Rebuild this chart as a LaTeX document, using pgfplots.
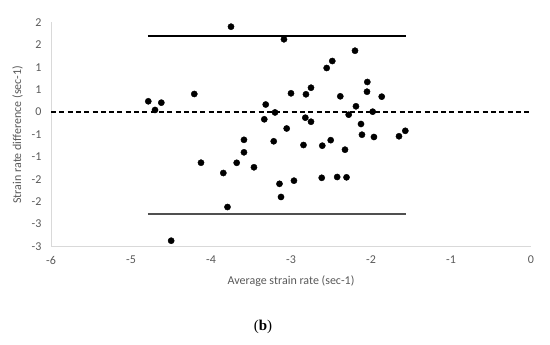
\documentclass[border=0pt]{standalone}
\usepackage{pgfplots}
\pgfplotsset{compat=1.18}
\usepackage{fontspec}
\setmainfont{Carlito}
\newfontfamily\capfont{Liberation Serif}
\definecolor{txt}{HTML}{595959}
\definecolor{axl}{HTML}{D9D9D9}
\definecolor{loa}{HTML}{505050}

\pgfplotstableread{
x y
-3.750 1.904
-4.784 0.239
-4.621 0.208
-4.700 0.045
-4.209 0.402
-3.316 0.167
-3.200 -0.010
-3.334 -0.163
-3.088 1.623
-2.200 1.368
-2.484 1.138
-2.554 0.982
-2.046 0.670
-2.750 0.542
-3.000 0.417
-2.813 0.395
-2.050 0.453
-2.384 0.350
-1.866 0.342
-2.188 0.127
-1.979 0.007
-2.279 -0.060
-2.821 -0.127
-2.750 -0.217
-2.125 -0.268
-3.054 -0.368
-3.216 -0.654
-2.844 -0.737
-2.609 -0.752
-2.504 -0.629
-2.325 -0.841
-2.113 -0.507
-1.963 -0.558
-1.650 -0.542
-1.571 -0.420
-4.125 -1.132
-3.679 -1.134
-3.588 -0.621
-3.588 -0.900
-3.463 -1.234
-3.846 -1.362
-3.144 -1.603
-3.125 -1.897
-2.963 -1.533
-2.616 -1.469
-2.423 -1.451
-2.306 -1.458
-3.794 -2.121
-4.498 -2.873
}\pts

\begin{document}
\begin{tikzpicture}[x=1pt,y=1pt]
\useasboundingbox (0,0) rectangle (550,345);
\begin{axis}[
    at={(531pt,233pt)}, anchor=origin,
    width=480pt, height=224pt, scale only axis,
    xmin=-6, xmax=0, ymin=-3, ymax=2,
    axis x line=bottom, axis y line=left,
    axis line style={draw=axl, line width=0.8pt, -},
    xtick={-6,-5,-4,-3,-2,-1,0},
    xticklabels={-6,-5,-4,-3,-2,-1,0},
    ytick={-3,-2.5,-2,-1.5,-1,-0.5,0,0.5,1,1.5,2},
    yticklabels={-3,-3,-2,-2,-1,-1,0,1,1,2,2},
    major tick length=0pt,
    tick label style={font=\fontsize{12}{14}\selectfont, text=txt},
    xticklabel style={yshift=-6pt},
    yticklabel style={xshift=-6pt},
    clip=false,
]
    % limits of agreement
    \addplot[black, line width=1.7pt] coordinates {(-4.79,1.70) (-1.566,1.70)};
    \addplot[loa, line width=1.9pt] coordinates {(-4.79,-2.27) (-1.566,-2.27)};
    % mean difference
    \addplot[black, line width=1.4pt, dash pattern=on 5pt off 3.3pt] coordinates {(-6,0) (0,0)};

    \addplot[only marks, mark=*, mark size=3.1pt, black] table {\pts};
\end{axis}
\node[rotate=90, text=txt, font=\fontsize{12}{14}\selectfont] at (17.5,210.3) {Strain rate difference (sec-1)};
\node[text=txt, font=\fontsize{12}{14}\selectfont] at (291,64) {Average strain rate (sec-1)};
\node[font=\capfont\fontsize{15}{17}\selectfont] at (263,18) {(\textbf{b})};
\end{tikzpicture}
\end{document}
